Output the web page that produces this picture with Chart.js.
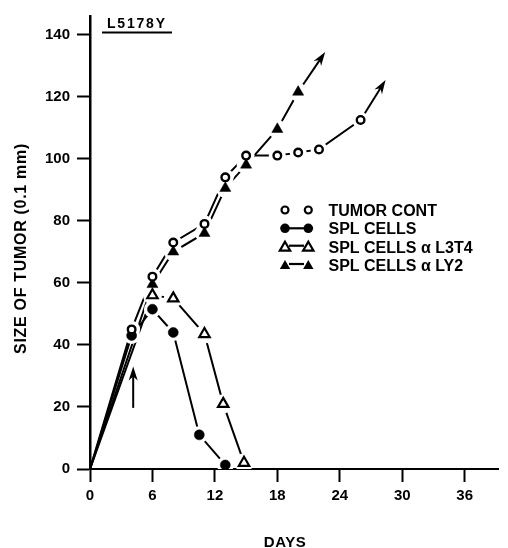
<!DOCTYPE html>
<html>
<head>
<meta charset="utf-8">
<title>L5178Y tumor growth</title>
<script src="https://cdn.jsdelivr.net/npm/chart.js@4.4.1/dist/chart.umd.min.js"></script>
<style>
  html, body { margin: 0; padding: 0; background: #fff; }
  #chart { display: block; }
</style>
</head>
<body>
<canvas id="chart" width="508" height="548"></canvas>
<script>
const FONT = "'Liberation Sans', Arial, Helvetica, sans-serif";

const xTicks = [0, 6, 12, 18, 24, 30, 36];
const yTicks = [0, 20, 40, 60, 80, 100, 120, 140];

// tumor alone
const tumorDays = [0, 4, 6, 8, 11, 13, 15, 18, 20, 22, 26];
const tumorSize = [0, 45, 62, 73, 79, 94, 101, 101, 102, 103, 112.5];
// spleen cells
const splDays = [0, 4, 6, 8, 10.5, 13];
const splSize = [0, 43, 51.5, 44, 11, 1.3];
// spleen cells treated with anti-L3T4
const l3t4Days = [0, 6, 8, 11, 12.8, 14.8];
const l3t4Size = [0, 56, 55, 43.5, 21, 2];
// spleen cells treated with anti-Ly2
const ly2Days = [0, 6, 8, 11, 13, 15, 18, 20];
const ly2Size = [0, 59.5, 70, 76, 90.5, 98, 109.5, 121.5];

// "still growing" arrows: [day, size] of the arrow tip
const tumorArrowTip = [28.4, 125.4];
const ly2ArrowTip = [22.6, 134.4];
// cell transfer marker
const transferDay = 4.15;
const transferFrom = 19.7;
const transferTo = 33;

const legendLabels = ["TUMOR CONT", "SPL CELLS", "SPL CELLS \u03b1 L3T4", "SPL CELLS \u03b1 LY2"];

const pts = (days, sizes) => days.map((d, i) => ({ x: d, y: sizes[i] }));
const skipOrigin = (r) => (c) => (c.raw && c.raw.x === 0 ? 0 : r);

const series = [
  { days: tumorDays, size: tumorSize, style: "circle", r: 3.8, fill: "#fff", bw: 2.4, halo: 8.5 },
  { days: splDays, size: splSize, style: "circle", r: 5, fill: "#000", bw: 0.5, halo: 8.5 },
  { days: l3t4Days, size: l3t4Size, style: "triangle", r: 6, fill: "#fff", bw: 2.2, halo: 9.5 },
  { days: ly2Days, size: ly2Size, style: "triangle", r: 6.4, fill: "#000", bw: 0.5, halo: 9.5 },
];

// each series = line underneath, white halo to break the line, marker on top
const datasets = [];
series.forEach((s) => {
  datasets.push({
    data: pts(s.days, s.size), order: 3, borderColor: "#000", borderWidth: 2,
    pointRadius: 0, tension: 0, fill: false,
  });
  datasets.push({
    data: pts(s.days, s.size), order: 2, showLine: false, pointStyle: "circle",
    pointRadius: skipOrigin(s.halo), pointBackgroundColor: "#fff", pointBorderWidth: 0, pointBorderColor: "#fff",
  });
  datasets.push({
    data: pts(s.days, s.size), order: 1, showLine: false, pointStyle: s.style,
    pointRadius: skipOrigin(s.r), pointBackgroundColor: s.fill, pointBorderColor: "#000", pointBorderWidth: s.bw,
  });
});

function drawArrow(ctx, x0, y0, x1, y1, gap) {
  const dx = x1 - x0, dy = y1 - y0;
  const len = Math.hypot(dx, dy);
  const ux = dx / len, uy = dy / len;
  const hl = 14, hw = 4.5;
  ctx.beginPath();
  ctx.moveTo(x0 + ux * gap, y0 + uy * gap);
  ctx.lineTo(x1 - ux * 8, y1 - uy * 8);
  ctx.stroke();
  ctx.beginPath();
  ctx.moveTo(x1, y1);
  ctx.lineTo(x1 - ux * hl - uy * hw, y1 - uy * hl + ux * hw);
  ctx.lineTo(x1 - ux * hl * 0.7, y1 - uy * hl * 0.7);
  ctx.lineTo(x1 - ux * hl + uy * hw, y1 - uy * hl - ux * hw);
  ctx.closePath();
  ctx.fill();
}

function legendMarker(ctx, style, fill, x, y) {
  ctx.beginPath();
  if (style === "circle") {
    const r = fill === "#000" ? 4.8 : 3.5;
    ctx.arc(x, y, r, 0, Math.PI * 2);
  } else {
    const r = 6;
    for (let k = 0; k < 3; k++) {
      const a = k * 2 * Math.PI / 3;
      const px = x + Math.sin(a) * r, py = y + 1 - Math.cos(a) * r;
      k ? ctx.lineTo(px, py) : ctx.moveTo(px, py);
    }
    ctx.closePath();
  }
  ctx.fillStyle = fill;
  ctx.fill();
  ctx.lineWidth = 2.2;
  ctx.strokeStyle = "#000";
  if (fill !== "#000") ctx.stroke();
}

const decor = {
  id: "decor",
  afterDraw(chart) {
    const { ctx, scales: { x, y } } = chart;
    ctx.save();
    ctx.fillStyle = "#000";
    ctx.strokeStyle = "#000";
    ctx.lineWidth = 2;

    // continuation arrows
    const tLast = tumorDays.length - 1;
    drawArrow(ctx, x.getPixelForValue(tumorDays[tLast]), y.getPixelForValue(tumorSize[tLast]),
      x.getPixelForValue(tumorArrowTip[0]), y.getPixelForValue(tumorArrowTip[1]), 8);
    const lLast = ly2Days.length - 1;
    drawArrow(ctx, x.getPixelForValue(ly2Days[lLast]), y.getPixelForValue(ly2Size[lLast]),
      x.getPixelForValue(ly2ArrowTip[0]), y.getPixelForValue(ly2ArrowTip[1]), 9);
    // transfer arrow
    const tx = x.getPixelForValue(transferDay);
    drawArrow(ctx, tx, y.getPixelForValue(transferFrom), tx, y.getPixelForValue(transferTo), 0);

    // panel title
    ctx.font = `bold 14px ${FONT}`;
    ctx.letterSpacing = "1.8px";
    ctx.textBaseline = "alphabetic";
    ctx.textAlign = "left";
    ctx.fillText("L5178Y", 107, 27.5);
    ctx.beginPath();
    ctx.moveTo(102, 32.5);
    ctx.lineTo(172, 32.5);
    ctx.stroke();

    // axis titles
    ctx.letterSpacing = "0.5px";
    ctx.font = `bold 15px ${FONT}`;
    ctx.textAlign = "center";
    ctx.fillText("DAYS", 285, 547);
    ctx.save();
    ctx.translate(26, 248.5);
    ctx.rotate(-Math.PI / 2);
    ctx.letterSpacing = "0.7px";
    ctx.font = `bold 16px ${FONT}`;
    ctx.fillText("SIZE OF TUMOR (0.1 mm)", 0, 0);
    ctx.restore();

    // legend
    ctx.letterSpacing = "0px";
    ctx.font = `bold 16px ${FONT}`;
    ctx.textAlign = "left";
    const rows = [210, 228.3, 246.7, 265];
    series.forEach((s, i) => {
      const ry = rows[i];
      if (i > 0) {
        ctx.beginPath();
        ctx.moveTo(289, ry - (s.style === "triangle" ? 1 : 0));
        ctx.lineTo(304, ry - (s.style === "triangle" ? 1 : 0));
        ctx.stroke();
      }
      legendMarker(ctx, s.style, s.fill, 285, ry);
      legendMarker(ctx, s.style, s.fill, 308.3, ry);
      ctx.fillStyle = "#000";
      ctx.fillText(legendLabels[i], 328.5, ry + 5.8);
    });
    ctx.restore();
  },
};

const axisFont = { family: FONT, size: 15, weight: "bold" };

new Chart(document.getElementById("chart"), {
  type: "line",
  data: { datasets },
  options: {
    responsive: false,
    animation: false,
    events: [],
    layout: { padding: { top: 8, left: 0, right: 0, bottom: 0 } },
    plugins: { legend: { display: false }, tooltip: { enabled: false } },
    scales: {
      x: {
        type: "linear",
        min: 0,
        max: 39.25,
        z: 1,
        afterBuildTicks: (s) => { s.ticks = xTicks.map((v) => ({ value: v })); },
        afterFit: (s) => { s.height = 79; },
        grid: { drawOnChartArea: false, tickLength: 13, tickWidth: 2, tickColor: "#000" },
        border: { color: "#000", width: 2 },
        ticks: { color: "#000", font: axisFont, padding: 5, maxRotation: 0 },
      },
      y: {
        type: "linear",
        min: 0,
        max: 146,
        z: 1,
        afterBuildTicks: (s) => { s.ticks = yTicks.map((v) => ({ value: v })); },
        afterFit: (s) => { s.width = 90; },
        grid: { drawOnChartArea: false, tickLength: 13, tickWidth: 2, tickColor: "#000" },
        border: { color: "#000", width: 2.5 },
        ticks: { color: "#000", font: axisFont, padding: 7 },
      },
    },
  },
  plugins: [decor],
});
</script>
</body>
</html>
